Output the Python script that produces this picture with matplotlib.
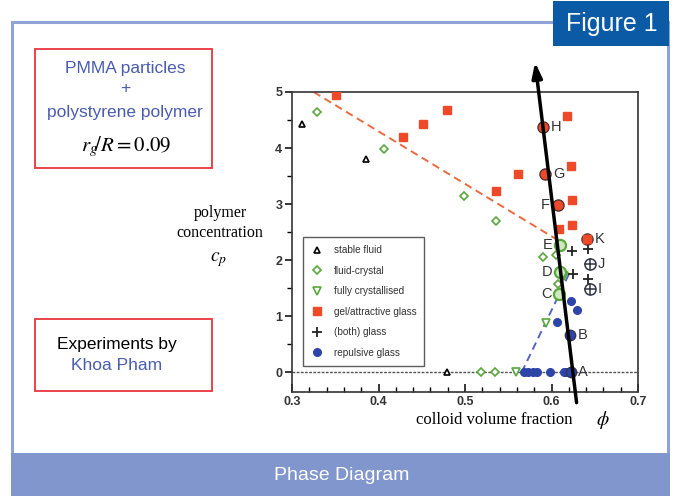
import matplotlib
matplotlib.use("Agg")
import matplotlib.pyplot as plt
from matplotlib.patches import Rectangle

plt.rcParams['font.family'] = ['Liberation Sans', 'DejaVu Sans']
plt.rcParams['mathtext.fontset'] = 'stix'

# ---- phase diagram data: colloid volume fraction (phi) vs polymer concentration (cp) ----
fluid_phi = [0.312, 0.386, 0.479]
fluid_cp = [4.43, 3.80, 0.0]

crystal_phi = [0.329, 0.406, 0.499, 0.536, 0.590, 0.519, 0.535, 0.605, 0.608]
crystal_cp = [4.64, 3.98, 3.15, 2.70, 2.05, 0.0, 0.0, 2.10, 1.57]

fullcryst_phi = [0.559, 0.594, 0.615]
fullcryst_cp = [0.0, 0.875, 1.72]

gel_phi = [0.351, 0.428, 0.451, 0.479, 0.536, 0.561, 0.618, 0.623, 0.624, 0.624, 0.609]
gel_cp = [4.95, 4.19, 4.43, 4.68, 3.23, 3.54, 4.57, 3.68, 3.08, 2.63, 2.55]

both_phi = [0.624, 0.642, 0.625, 0.642]
both_cp = [2.17, 2.20, 1.75, 1.67]

repulsive_phi = [0.568, 0.573, 0.579, 0.583, 0.598, 0.614, 0.617, 0.623, 0.630, 0.606]
repulsive_cp = [0.0, 0.0, 0.0, 0.0, 0.0, 0.0, 0.0, 1.27, 1.11, 0.90]

# labelled samples
sample_names = ['A', 'B', 'C', 'D', 'E', 'F', 'G', 'H', 'I', 'J', 'K']
sample_phi = [0.622, 0.621, 0.609, 0.610, 0.610, 0.607, 0.593, 0.590, 0.644, 0.644, 0.641]
sample_cp = [0.0, 0.66, 1.39, 1.79, 2.27, 2.99, 3.54, 4.37, 1.48, 1.93, 2.37]
sample_kind = ['rep', 'rep', 'cry', 'cry', 'cry', 'gel', 'gel', 'gel', 'both', 'both', 'gelsq']
sample_side = ['r', 'r', 'l', 'l', 'l', 'l', 'r', 'r', 'r', 'r', 'r']

# boundaries
glass_line_phi = [0.325, 0.606]
glass_line_cp = [5.0, 2.37]
cryst_line_phi = [0.5655, 0.621]
cryst_line_cp = [0.0, 1.78]

# path through the samples
path_phi = [0.629, 0.581]
path_cp = [-0.54, 5.53]

RED = '#ee4a2a'
GREEN = '#5aa83c'
BLUE = '#2d45a8'

fig = plt.figure(figsize=(6.75, 4.96), dpi=100)
W, H = 675.0, 496.0


def fx(px):
    return px / W


def fy(py):
    return 1 - py / H


# page frame, banner and figure tag
fig.patches.append(Rectangle((fx(12), fy(455)), fx(668) - fx(12), fy(22) - fy(455),
                             transform=fig.transFigure, fill=False,
                             edgecolor='#90a3d6', lw=2.2))
fig.patches.append(Rectangle((fx(11), fy(496)), fx(670) - fx(11), fy(453) - fy(496),
                             transform=fig.transFigure, facecolor='#8196cc',
                             edgecolor='none'))
fig.patches.append(Rectangle((fx(553), fy(46)), fx(669) - fx(553), fy(1) - fy(46),
                             transform=fig.transFigure, facecolor='#0b5aa6',
                             edgecolor='none', zorder=3))
fig.text(fx(612), fy(24), 'Figure 1', color='white', fontsize=18,
         ha='center', va='center', zorder=4)
fig.text(fx(342), fy(475), 'Phase Diagram', color='white', fontsize=14,
         ha='center', va='center')

# info boxes
for top, bot in [(49, 168), (319, 391)]:
    fig.patches.append(Rectangle((fx(35), fy(bot)), fx(212) - fx(35), fy(top) - fy(bot),
                                 transform=fig.transFigure, fill=False,
                                 edgecolor='#e8343c', lw=1.3))
TXT_BLUE = '#4a5cb0'
fig.text(fx(125), fy(68), 'PMMA particles', color=TXT_BLUE, fontsize=12.5, ha='center', va='center')
fig.text(fx(125), fy(88), '+', color=TXT_BLUE, fontsize=12.5, ha='center', va='center')
fig.text(fx(125), fy(112), 'polystyrene polymer', color=TXT_BLUE, fontsize=12.5, ha='center', va='center')
fig.text(fx(126), fy(147), r'$r_g\!/R = 0.09$', color='black', fontsize=15, ha='center', va='center')
fig.text(fx(117), fy(345), 'Experiments by', color='black', fontsize=12.5, ha='center', va='center')
fig.text(fx(117), fy(366), 'Khoa Pham', color=TXT_BLUE, fontsize=12.5, ha='center', va='center')

# axis labels
SERIF = ['Liberation Serif', 'DejaVu Serif']
fig.text(fx(220), fy(213), 'polymer', family=SERIF, fontsize=11.5, ha='center', va='center')
fig.text(fx(220), fy(233), 'concentration', family=SERIF, fontsize=11.5, ha='center', va='center')
fig.text(fx(219), fy(260), r'$c_p$', fontsize=14, ha='center', va='center')
fig.text(fx(494), fy(420), 'colloid volume fraction', family=SERIF, fontsize=12,
         ha='center', va='center')
fig.text(fx(603), fy(420), r'$\phi$', fontsize=14, ha='center', va='center')

ax = fig.add_axes([fx(292), fy(392), fx(638) - fx(292), fy(92) - fy(392)])
ax.set_xlim(0.3, 0.7)
ax.set_ylim(-0.35, 5.0)

ax.axhline(0, color='#555555', lw=1.0, ls=(0, (2, 1)), zorder=1)
ax.plot(glass_line_phi, glass_line_cp, color='#ec6a40', lw=1.4, ls=(0, (4, 2.5)), zorder=2)
ax.plot(cryst_line_phi, cryst_line_cp, color='#5565c0', lw=1.4, ls=(0, (4, 2.5)), zorder=2)

ms = 5.5
ax.plot(fluid_phi, fluid_cp, ls='none', marker='^', ms=4.5, mfc='white', mec='black',
        mew=1.2, label='stable fluid', zorder=4)
ax.plot(crystal_phi, crystal_cp, ls='none', marker='D', ms=4.2, mfc='white', mec=GREEN,
        mew=1.2, label='fluid-crystal', zorder=4)
ax.plot(fullcryst_phi, fullcryst_cp, ls='none', marker='v', ms=5.5, mfc='white', mec=GREEN,
        mew=1.2, label='fully crystallised', zorder=4)
ax.plot(gel_phi, gel_cp, ls='none', marker='s', ms=ms, mfc=RED, mec=RED,
        label='gel/attractive glass', zorder=4)
ax.plot(both_phi, both_cp, ls='none', marker='+', ms=7, mec='#222222', mew=1.3,
        label='(both) glass', zorder=4)
ax.plot(repulsive_phi, repulsive_cp, ls='none', marker='o', ms=ms, mfc=BLUE, mec=BLUE,
        label='repulsive glass', zorder=4)

# labelled samples
for name, px, py, kind, side in zip(sample_names, sample_phi, sample_cp, sample_kind, sample_side):
    if kind == 'rep':
        ax.plot(px, py, marker='o', ms=7.5, mfc=BLUE, mec='#333355', mew=1.0, zorder=5)
    elif kind == 'cry':
        ax.plot(px, py, marker='o', ms=8, mfc='#cfe8c0', mec=GREEN, mew=1.6, zorder=5)
    elif kind == 'gel':
        ax.plot(px, py, marker='o', ms=8, mfc=RED, mec='#553333', mew=1.0, zorder=5)
    elif kind == 'gelsq':
        ax.plot(px, py, marker='o', ms=8, mfc=RED, mec='#553333', mew=1.0, zorder=5)
        ax.plot(px, py, marker='s', ms=6, mfc=RED, mec=RED, zorder=6)
    else:
        ax.plot(px, py, marker='o', ms=8, mfc='white', mec='#333344', mew=1.1, zorder=5)
        ax.plot(px, py, marker='+', ms=8, mec='#333344', mew=1.1, zorder=6)
    dx = 0.009 if side == 'r' else -0.009
    ax.text(px + dx, py, name, fontsize=10.5, color='#333333',
            ha='left' if side == 'r' else 'right', va='center', zorder=7)

ax.annotate('', xy=(path_phi[1], path_cp[1]), xytext=(path_phi[0], path_cp[0]),
            arrowprops=dict(arrowstyle='-|>,head_length=0.9,head_width=0.3',
                            color='black', lw=2.5, shrinkA=0, shrinkB=0),
            annotation_clip=False, zorder=8)

ax.set_xticks([0.3, 0.4, 0.5, 0.6, 0.7])
ax.set_xticklabels(['0.3', '0.4', '0.5', '0.6', '0.7'])
ax.set_xticks([0.32, 0.34, 0.36, 0.38, 0.42, 0.44, 0.46, 0.48, 0.52, 0.54, 0.56, 0.58,
               0.62, 0.64, 0.66, 0.68], minor=True)
ax.set_yticks([0, 1, 2, 3, 4, 5])
ax.set_yticks([0.5, 1.5, 2.5, 3.5, 4.5], minor=True)
ax.tick_params(axis='x', which='major', direction='in', length=6, width=1.1,
               labelsize=9, pad=3)
ax.tick_params(axis='x', which='minor', direction='in', length=3.5, width=1.0)
ax.tick_params(axis='y', which='major', direction='out', length=5, width=1.1,
               labelsize=9, pad=2)
ax.tick_params(axis='y', which='minor', direction='out', length=3.5, width=1.0)
for lab in ax.get_xticklabels() + ax.get_yticklabels():
    lab.set_fontweight('bold')
    lab.set_color('#333333')
for sp in ax.spines.values():
    sp.set_linewidth(1.2)
    sp.set_color('#333333')

leg = ax.legend(loc='lower left', bbox_to_anchor=(0.031, 0.087), borderaxespad=0,
                fontsize=7.2, frameon=True, fancybox=False, labelspacing=1.05,
                handlelength=1.2, handletextpad=1.1, borderpad=0.8, numpoints=1)
leg.get_frame().set_edgecolor('#333333')
leg.get_frame().set_linewidth(1.0)
for t in leg.get_texts():
    t.set_color('#333333')

fig.savefig('out.png', dpi=100)
